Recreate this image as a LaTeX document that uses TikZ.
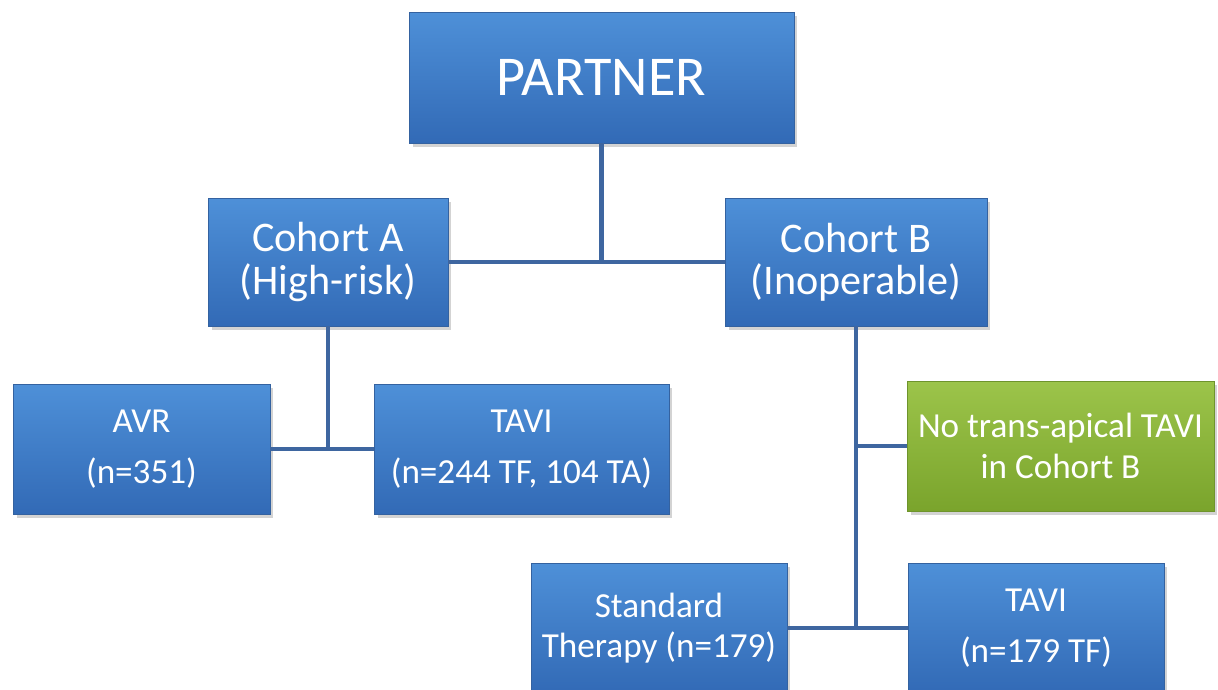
\documentclass[tikz,border=0pt]{standalone}
\usepackage{fontspec}
\setmainfont{Carlito}
\usetikzlibrary{shadows}

\definecolor{boxtop}{RGB}{78,144,216}
\definecolor{boxbot}{RGB}{50,106,182}
\definecolor{boxedge}{RGB}{52,98,160}
\definecolor{greentop}{RGB}{156,196,74}
\definecolor{greenbot}{RGB}{122,164,44}
\definecolor{greenedge}{RGB}{110,148,44}
\definecolor{linkcol}{RGB}{62,102,160}

\tikzstyle{box}=[shape=rectangle,draw=boxedge,top color=boxtop,bottom color=boxbot,text=white,align=center,inner sep=0pt,
  drop shadow={shadow xshift=2pt,shadow yshift=-2pt,opacity=0.35}]
\tikzstyle{note}=[box,draw=greenedge,top color=greentop,bottom color=greenbot]
\tikzstyle{link}=[draw=linkcol,line width=2.3pt]
\def\small{\fontsize{20}{29}\selectfont}
\def\boxh{2.6cm}

\begin{document}
\begin{tikzpicture}[x=0.02cm,y=-0.02cm]
\useasboundingbox (0,0) rectangle (1218,690);
% top
\node[box,minimum width=7.7cm,minimum height=2.62cm,font=\fontsize{32}{32}\selectfont] (partner) at (601.5,77.5) {PARTNER};
% cohorts
\node[box,minimum width=4.8cm,minimum height=2.56cm,font=\fontsize{24}{24}\selectfont] (cohA) at (328,262) {Cohort A\\(High-risk)};
\node[box,minimum width=5.24cm,minimum height=2.56cm,font=\fontsize{24}{24}\selectfont] (cohB) at (856,262) {Cohort B\\(Inoperable)};
% cohort A arms
\node[box,minimum width=5.14cm,minimum height=\boxh,font=\small] (avr) at (141.5,449) {AVR\\(n=351)};
\node[box,minimum width=5.9cm,minimum height=\boxh,font=\small] (taviA) at (521.5,449) {TAVI\\(n=244 TF, 104 TA)};
% cohort B arms
\node[note,minimum width=6.14cm,minimum height=\boxh,font=\fontsize{20}{23}\selectfont] (noTA) at (1060.5,446) {No trans-apical TAVI\\in Cohort B};
\node[box,minimum width=5.12cm,minimum height=\boxh,font=\fontsize{20}{23}\selectfont] (std) at (659,628) {Standard\\Therapy (n=179)};
\node[box,minimum width=5.12cm,minimum height=\boxh,font=\small] (taviB) at (1036,628) {TAVI\\(n=179 TF)};

% connectors
\coordinate (topJ) at (partner.south |- cohA.east);
\coordinate (aJ) at (cohA.south |- avr.east);
\coordinate (bJ1) at (cohB.south |- noTA.west);
\coordinate (bJ2) at (cohB.south |- std.east);
\draw[link] (partner) -- (topJ);
\draw[link] (cohA) -- (cohB);
\draw[link] (cohA) -- (aJ);
\draw[link] (avr) -- (taviA);
\draw[link] (cohB) -- (bJ2);
\draw[link] (bJ1) -- (noTA);
\draw[link] (std) -- (taviB);
\end{tikzpicture}
\end{document}
